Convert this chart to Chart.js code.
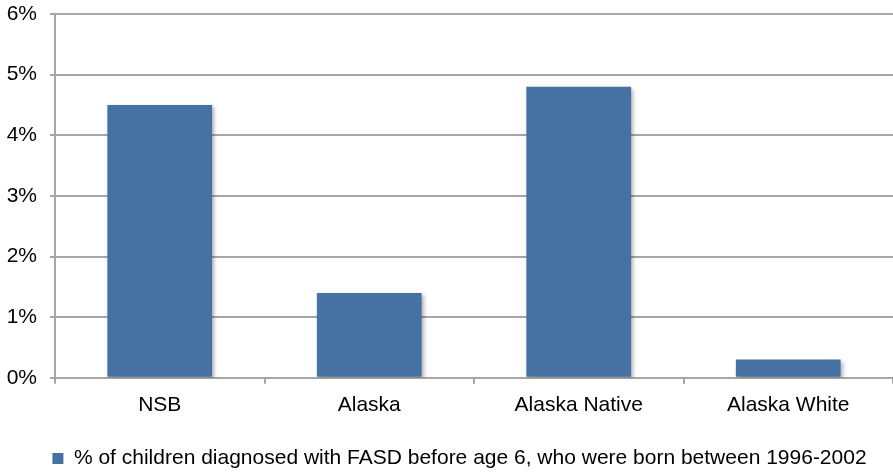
<!DOCTYPE html>
<html lang="en">
  <head>
    <meta charset="UTF-8" />
    <title>FASD chart</title>
    <script src="https://cdn.jsdelivr.net/npm/chart.js@4/dist/chart.umd.min.js"></script>
    <style>
      html, body { margin: 0; padding: 0; background: #fff; }
      #wrap { width: 893px; height: 476px; }
    </style>
  </head>
  <body>
    <div id="wrap"><canvas id="chart" width="893" height="476"></canvas></div>
    <script>
      const categories = ["NSB", "Alaska", "Alaska Native", "Alaska White"];
      const seriesLabel = "% of children diagnosed with FASD before age 6, who were born between 1996-2002";
      const seriesValues = [4.5, 1.4, 4.8, 0.3];
      const yTicks = [0, 1, 2, 3, 4, 5, 6];

      const gridColor = "#a6a6a6";
      const barColor = "#4672a3";
      const font = { family: "'Liberation Sans', Arial, sans-serif", size: 21 };

      // soft drop shadow under the bars
      const barShadow = {
        id: "barShadow",
        beforeDatasetsDraw(chart) {
          const ctx = chart.ctx;
          ctx.save();
          ctx.shadowColor = "rgba(0,0,0,0.3)";
          ctx.shadowBlur = 4;
          ctx.shadowOffsetX = 2;
          ctx.shadowOffsetY = 2;
        },
        afterDatasetsDraw(chart) {
          chart.ctx.restore();
        },
      };

      // legend sits a bit right of centre and lower in the original
      const legendShift = {
        id: "legendShift",
        afterLayout(chart) {
          chart.legend.left += 12;
          chart.legend.right += 12;
          chart.legend.top += 3;
          chart.legend.bottom += 3;
        },
      };

      new Chart(document.getElementById("chart").getContext("2d"), {
        type: "bar",
        data: {
          labels: categories,
          datasets: [
            {
              label: seriesLabel,
              data: seriesValues,
              backgroundColor: barColor,
              borderWidth: 0,
              categoryPercentage: 1,
              barPercentage: 0.5,
            },
          ],
        },
        options: {
          responsive: false,
          animation: false,
          layout: { padding: { top: 14, right: 0, left: 2, bottom: 0 } },
          plugins: {
            tooltip: { enabled: false },
            legend: {
              position: "bottom",
              labels: {
                color: "#000",
                font: font,
                boxWidth: 11,
                boxHeight: 11,
                padding: 18,
              },
            },
          },
          scales: {
            x: {
              grid: {
                drawOnChartArea: false,
                drawTicks: true,
                tickLength: 6,
                color: gridColor,
                lineWidth: 2,
              },
              border: { color: gridColor, width: 2 },
              ticks: { color: "#000", font: font, padding: 9 },
            },
            y: {
              min: 0,
              max: 6,
              afterBuildTicks(axis) {
                axis.ticks = yTicks.map((v) => ({ value: v }));
              },
              afterFit(axis) {
                axis.width = 53;
                axis.paddingTop = 0;
                axis.paddingBottom = 0;
              },
              grid: { color: gridColor, lineWidth: 2, tickLength: 5 },
              border: { color: gridColor, width: 2 },
              ticks: {
                color: "#000",
                font: font,
                padding: 13,
                callback: (v) => v + "%",
              },
            },
          },
        },
        plugins: [barShadow, legendShift],
      });
    </script>
  </body>
</html>
